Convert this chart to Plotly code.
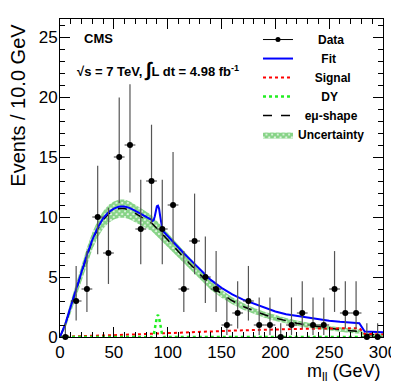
import plotly.graph_objects as go

# data points (10 GeV bins)
bin_centres = [5, 15, 25, 35, 45, 55, 65, 75, 85, 95, 105, 115, 125, 135, 145,
               155, 165, 175, 185, 195, 205, 215, 225, 235, 245, 255, 265, 275, 285, 295]
counts = [0, 3, 4, 10, 7, 15, 16, 9, 13, 9, 11, 4, 8, 5, 4,
          1, 2, 3, 1, 1, 0, 1, 2, 1, 1, 4, 2, 2, 0, 0]
err_up = [1.15, 2.92, 3.16, 4.27, 3.77, 4.95, 5.07, 4.11, 4.69, 4.11, 4.42, 3.16, 3.95, 3.38, 3.16,
          2.30, 2.64, 2.92, 2.30, 2.30, 1.15, 2.30, 2.64, 2.30, 2.30, 3.16, 2.64, 2.64, 1.15, 1.15]
err_down = [0, 1.63, 1.91, 3.11, 2.58, 3.83, 3.96, 2.94, 3.56, 2.94, 3.27, 1.91, 2.77, 2.16, 1.91,
            0.83, 1.29, 1.63, 0.83, 0.83, 0, 0.83, 1.29, 0.83, 0.83, 1.91, 1.29, 1.29, 0, 0]

# curves
mass = [0, 5, 10, 15, 20, 25, 30, 35, 40, 45, 50, 55, 60, 65, 70, 75, 80, 85,
        86, 87, 88, 89, 90, 91, 92, 93, 94, 95, 96,
        100, 105, 110, 115, 120, 125, 130,
        140, 150, 160, 170, 180, 190, 200, 210, 220, 230, 240, 250, 260, 270,
        278, 283, 290, 300]
fit = [0.02, 1.1, 2.55, 4.02, 5.48, 6.84, 8.1, 9.11, 9.88, 10.39, 10.7, 10.87, 10.88, 10.74, 10.51, 10.27, 10.04, 9.76,
       9.67, 9.73, 10.05, 10.5, 10.9, 10.95, 10.7, 10.1, 9.3, 9.05, 8.8,
       8.4, 7.92, 7.44, 6.98, 6.53, 6.1, 5.67,
       4.76, 4.1, 3.55, 3.11, 2.76, 2.46, 2.12, 1.9, 1.75, 1.6, 1.47, 1.36, 1.27, 1.2,
       1.15, 0.45, 0.42, 0.39]
emu_shape = [0, 1.05, 2.5, 3.95, 5.4, 6.75, 8.0, 9.0, 9.75, 10.25, 10.55, 10.7, 10.7, 10.55, 10.3, 10.05, 9.8, 9.5,
             9.41, 9.32, 9.22, 9.13, 9.04, 8.94, 8.85, 8.76, 8.66, 8.57, 8.48,
             8.1, 7.6, 7.1, 6.62, 6.15, 5.7, 5.25,
             4.3, 3.6, 3.02, 2.55, 2.17, 1.85, 1.57, 1.35, 1.15, 0.98, 0.84, 0.72, 0.62, 0.52,
             0.45, 0.2, 0.18, 0.16]
signal = [0.02, 0.04, 0.05, 0.07, 0.08, 0.09, 0.1, 0.11, 0.13, 0.14, 0.15, 0.17, 0.18, 0.19, 0.21, 0.22, 0.24, 0.26,
          0.26, 0.26, 0.26, 0.27, 0.27, 0.27, 0.28, 0.28, 0.28, 0.29, 0.29,
          0.3, 0.32, 0.34, 0.36, 0.38, 0.4, 0.42,
          0.46, 0.5, 0.53, 0.56, 0.59, 0.61, 0.63, 0.65, 0.67, 0.69, 0.7, 0.71, 0.72, 0.73,
          0.74, 0.25, 0.24, 0.23]
drell_yan = [0, 0, 0, 0, 0, 0, 0, 0, 0, 0, 0, 0, 0, 0, 0, 0, 0, 0,
             0, 0.15, 0.55, 1.15, 1.65, 1.85, 1.6, 1.1, 0.55, 0.15, 0,
             0, 0, 0, 0, 0, 0, 0,
             0, 0, 0, 0, 0, 0, 0, 0, 0, 0, 0, 0, 0, 0,
             0, 0, 0, 0]
band_err = [0.1, 0.35, 0.5, 0.6, 0.65, 0.68, 0.7, 0.71, 0.72, 0.74, 0.75, 0.76, 0.76, 0.75, 0.73, 0.71, 0.69, 0.67,
            0.66, 0.66, 0.65, 0.65, 0.64, 0.63, 0.63, 0.62, 0.62, 0.61, 0.6,
            0.58, 0.55, 0.52, 0.48, 0.45, 0.42, 0.4,
            0.36, 0.33, 0.3, 0.28, 0.26, 0.25, 0.24, 0.23, 0.22, 0.21, 0.2, 0.2, 0.19, 0.19,
            0.18, 0.12, 0.12, 0.12]

band_hi = [v + e for v, e in zip(emu_shape, band_err)]
band_lo = [max(v - e, 0) for v, e in zip(emu_shape, band_err)]

FONT = "Liberation Sans"
NB = "\u00a0"

fig = go.Figure()

# uncertainty band
fig.add_trace(go.Scatter(x=mass, y=band_hi, mode="lines", line=dict(width=0, color="#1a9f1a"),
                         showlegend=False, hoverinfo="skip"))
fig.add_trace(go.Scatter(x=mass, y=band_lo, mode="lines", line=dict(width=0, color="#1a9f1a"),
                         fill="tonexty", fillcolor="rgba(0,0,0,0)",
                         fillpattern=dict(shape="x", fgcolor="#10a810", bgcolor="rgba(255,255,255,0)",
                                          size=4, solidity=0.85),
                         name="<b>Uncertainty</b>", legendrank=6))

fig.add_trace(go.Scatter(x=mass, y=emu_shape, mode="lines", line=dict(color="black", width=1.5, dash="dash"),
                         name="<b>" + NB * 2 + "eμ-shape</b>", legendrank=5))
fig.add_trace(go.Scatter(x=mass, y=signal, mode="lines", line=dict(color="#ff0000", width=2, dash="dot"),
                         name="<b>" + NB * 5 + "Signal</b>", legendrank=3))
fig.add_trace(go.Scatter(x=mass, y=drell_yan, mode="lines", line=dict(color="#22ee22", width=2.5, dash="dot"),
                         name="<b>" + NB * 7 + "DY</b>", legendrank=4))
fig.add_trace(go.Scatter(x=mass, y=fit, mode="lines", line=dict(color="#0000ff", width=2),
                         name="<b>" + NB * 7 + "Fit</b>", legendrank=2))

# data with poisson errors
fig.add_trace(go.Scatter(
    x=bin_centres, y=counts, mode="markers",
    marker=dict(color="black", size=6),
    error_x=dict(type="constant", value=5, width=0, color="#333333", thickness=1),
    error_y=dict(type="data", symmetric=False, array=err_up, arrayminus=err_down,
                 width=0, color="#555555", thickness=1.2),
    showlegend=False, cliponaxis=False))
fig.add_trace(go.Scatter(x=[None], y=[None], mode="lines+markers",
                         line=dict(color="black", width=1), marker=dict(color="black", size=5),
                         name="<b>" + NB * 6 + "Data</b>", legendrank=1))

axis_common = dict(
    showline=True, linecolor="black", linewidth=1, mirror="ticks", automargin=False,
    ticks="inside", ticklen=10, tickcolor="black", showgrid=False, zeroline=False,
    tickfont=dict(family=FONT, size=17, color="black"),
)
fig.update_xaxes(range=[0, 300], dtick=50, tick0=0, ticklabelstandoff=0,
                 minor=dict(ticks="inside", ticklen=5, dtick=10, tickcolor="black"), **axis_common)
fig.update_yaxes(range=[0, 26.5], dtick=5, tick0=0, ticklabelstandoff=-2,
                 minor=dict(ticks="inside", ticklen=5, dtick=1, tickcolor="black"), **axis_common)

fig.add_annotation(text="<b>CMS</b>", xref="paper", yref="paper", x=0.068, y=0.94,
                   xanchor="left", yanchor="middle", showarrow=False,
                   font=dict(family=FONT, size=13, color="black"))
fig.add_annotation(text="<b>√s = 7 TeV, <span style='font-size:20px'>∫</span>L dt = 4.98 fb<sup>-1</sup></b>",
                   xref="paper", yref="paper", x=0.046, y=0.84,
                   xanchor="left", yanchor="middle", showarrow=False,
                   font=dict(family=FONT, size=13, color="black"))
fig.add_annotation(text="Events / 10.0 GeV", textangle=-90, xref="paper", yref="paper",
                   x=-0.13, y=0.99, xanchor="center", yanchor="top", showarrow=False,
                   font=dict(family=FONT, size=20, color="black"))
fig.add_annotation(text="m<sub>ll</sub> (GeV)", xref="paper", yref="paper",
                   x=1.0, y=-0.112, xanchor="right", yanchor="middle", showarrow=False,
                   font=dict(family=FONT, size=18, color="black"))

# the page adds an 8px body margin, so the figure is 8px smaller than the window
fig.update_layout(
    width=391, height=379,
    margin=dict(l=52, r=16, t=11, b=50),
    paper_bgcolor="white", plot_bgcolor="white",
    legend=dict(x=0.613, y=0.981, xanchor="left", yanchor="top", traceorder="normal",
                bgcolor="rgba(0,0,0,0)", borderwidth=0, itemwidth=30,
                font=dict(family=FONT, size=12, color="black")),
)

fig.write_html("out.html")
